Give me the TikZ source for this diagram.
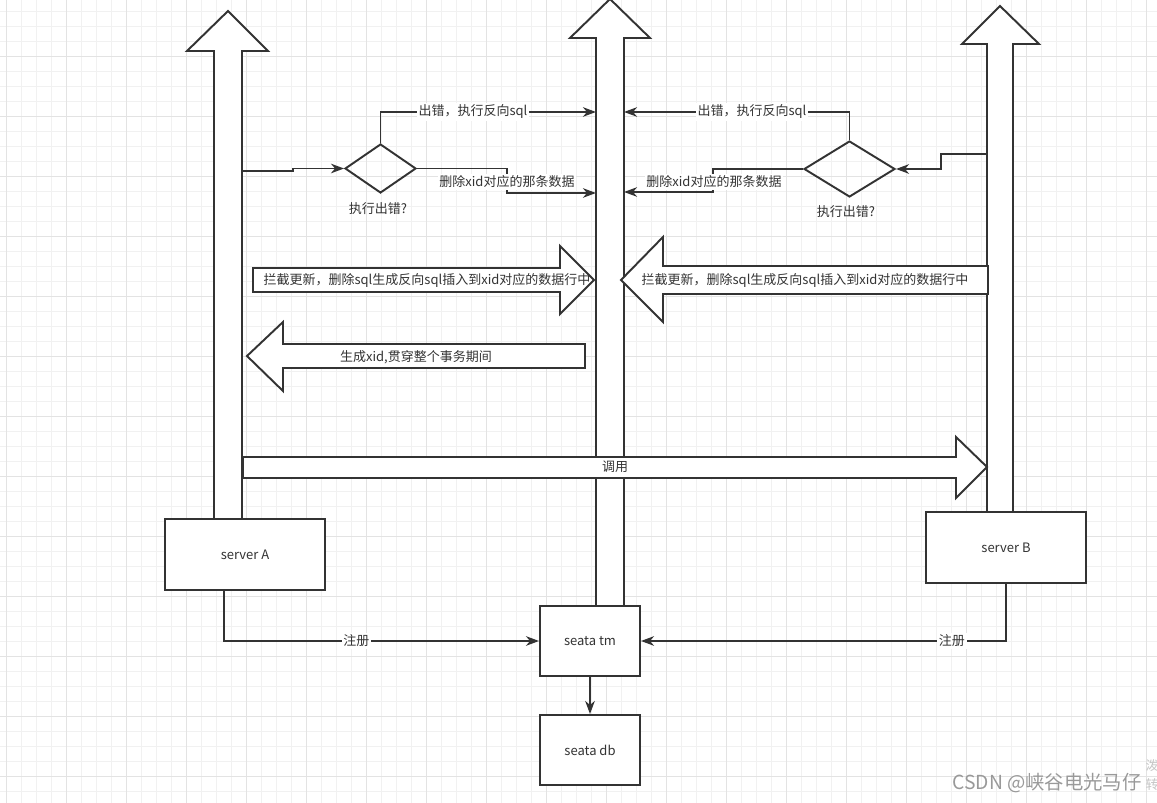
\documentclass[tikz,border=0pt]{standalone}
\usepackage{fontspec}
\setmainfont{Noto Sans CJK SC}
\usetikzlibrary{shapes.geometric,arrows.meta}
\definecolor{ink}{HTML}{333333}
\definecolor{gridlo}{HTML}{F1F1F1}
\definecolor{gridhi}{HTML}{E3E3E3}
\tikzset{
  box/.style={draw=ink,line width=1.1pt,fill=white,minimum width=3.2cm,minimum height=1.42cm},
  smallbox/.style={box,minimum width=2cm,minimum height=1.4cm},
  decision/.style={diamond,draw=ink,line width=1.1pt,inner sep=0pt},
  fat/.style={draw=ink,line width=1.1pt,fill=white,line join=miter},
  conn/.style={draw=ink,line width=1.1pt,-{Stealth[length=2.6mm,width=1.9mm,inset=0.8mm]}},
  lbl/.style={fill=white,inner sep=1pt},
  gridminor/.style={draw=gridlo,line width=0.5pt},
  gridmajor/.style={draw=gridhi,line width=0.6pt}
}
\begin{document}
\begin{tikzpicture}[x=0.02cm,y=-0.02cm,font=\fontsize{7.4}{9}\selectfont,text=ink]
\useasboundingbox (0,0) rectangle (1157,803);
\fill[white] (0,0) rectangle (1157,803);
\foreach\i in {0,...,77} \draw[gridminor] (6.7+15*\i,0)--(6.7+15*\i,803);
\foreach\i in {0,...,53} \draw[gridminor] (0,11.7+15*\i)--(1157,11.7+15*\i);
\foreach\i in {0,...,19} \draw[gridmajor] (6.7+60*\i,0)--(6.7+60*\i,803);
\foreach\i in {0,...,13} \draw[gridmajor] (0,-3.3+60*\i)--(1157,-3.3+60*\i);
% lifelines
\draw[fat] (214,519)--(214,51)--(187,51)--(228,11)--(268,51)--(242,51)--(242,519)--cycle;
\draw[fat] (987,512)--(987,44)--(962,44)--(1000,6)--(1039,44)--(1013,44)--(1013,512)--cycle;
\draw[fat] (596,606)--(596,38)--(570,38)--(610,-1)--(650,38)--(624,38)--(624,606)--cycle;
% block arrows
\draw[fat] (253,268)--(560,268)--(560,246)--(594,280)--(560,314)--(560,292)--(253,292)--cycle;
\node (intA) at (427,280) {拦截更新，删除sql生成反向sql插入到xid对应的数据行中};
\draw[fat] (988,266)--(663,266)--(663,237)--(621,280)--(663,322)--(663,294)--(988,294)--cycle;
\node (intB) at (805,280) {拦截更新，删除sql生成反向sql插入到xid对应的数据行中};
\draw[fat] (585,344)--(283,344)--(283,322)--(247,356)--(283,391)--(283,368)--(585,368)--cycle;
\node (xid) at (416,357) {生成xid,贯穿整个事务期间};
\draw[fat] (243,457)--(956,457)--(956,437)--(987,467)--(956,498)--(956,478)--(243,478)--cycle;
\node (call) at (615,467) {调用};
% boxes
\node[box] (srvA) at (245,554.5) {server A};
\node[box] (srvB) at (1006,547.5) {server B};
\node[smallbox] (tm) at (590,641) {seata tm};
\node[smallbox] (db) at (590,750) {seata db};
% decisions
\node[decision,minimum width=1.42cm,minimum height=0.98cm] (chkA) at (380.5,168.5) {};
\node[decision,minimum width=1.82cm,minimum height=1.12cm] (chkB) at (849.5,169) {};
\node (qA) at (378,209) {执行出错?};
\node (qB) at (846,212) {执行出错?};
\coordinate (aOut) at (242,171);
\coordinate (bOut) at (987,154);
\coordinate (tmL1) at (596,112);
\coordinate (tmL2) at (596,193);
\coordinate (tmR1) at (624,112);
\coordinate (tmR2) at (624,192);
\draw[conn] (aOut) -- ++(51,0) |- (chkA.west);
\draw[conn] (chkA.north) |- (tmL1);
\draw[conn] (chkA.east) -- ++(90,0) |- (tmL2);
\node[lbl] (errA) at (473,112) {出错，执行反向sql};
\node[lbl] (delA) at (507,182) {删除xid对应的那条数据};
\draw[conn] (bOut) -- ++(-46,0) |- (chkB.east);
\draw[conn] (chkB.north) |- (tmR1);
\draw[conn] (chkB.west) -- ++(-90,0) |- (tmR2);
\node[lbl] (errB) at (752,112) {出错，执行反向sql};
\node[lbl] (delB) at (714,182) {删除xid对应的那条数据};
% register
\draw[conn] ([xshift=-0.42cm]srvA.south) |- (tm.west) node[lbl,pos=0.71] (regA) {注册};
\draw[conn] (srvB.south) |- (tm.east) node[lbl,pos=0.574] (regB) {注册};
\draw[conn] (tm) -- (db);
\node[text=gray!80,font=\fontsize{11}{13}\selectfont] (mark) at (1047,783) {CSDN @峡谷电光马仔};
\node[text=gray!45] (markA) at (1152,766) {泼};
\node[text=gray!45] (markB) at (1152,785) {转};
\end{tikzpicture}
\end{document}
